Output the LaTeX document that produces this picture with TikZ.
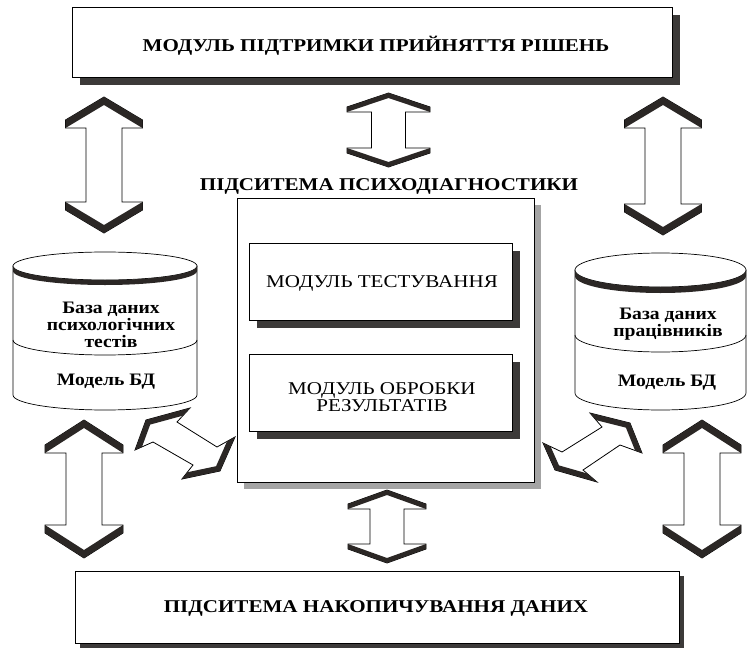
\documentclass[tikz,border=0pt]{standalone}
\usepackage{fontspec}
\setmainfont{Liberation Serif}
\newfontfamily\widefont{Liberation Serif}[FakeStretch=1.17]
\newfontfamily\cylfont{Liberation Serif}[FakeStretch=1.12]
\usetikzlibrary{shadows}
\definecolor{shdark}{HTML}{3C3A39}
\definecolor{shgray}{HTML}{A4A4A4}
\definecolor{bandc}{HTML}{2B2725}
% #1 cx, #2 cy, #3 length, #4 head width, #5 shaft width, #6 head length, #7 band
\newcommand{\dblarr}[7]{%
  \begin{scope}[shift={(#1,#2)}]
    \pgfmathsetmacro\aL{#3/2}
    \pgfmathsetmacro\aW{#4/2}
    \pgfmathsetmacro\aS{#5/2}
    \pgfmathsetmacro\aH{#3/2-#6}
    \pgfmathsetmacro\aK{#3/2-#6+#7}
    \pgfmathsetmacro\aT{#3/2-#7}
    \filldraw[arrbody] (0,-\aL) -- (\aW,-\aK) -- (\aW,-\aH) -- (\aS,-\aH) -- (\aS,\aH)
      -- (\aW,\aH) -- (\aW,\aK) -- (0,\aL) -- (-\aW,\aK) -- (-\aW,\aH) -- (-\aS,\aH)
      -- (-\aS,-\aH) -- (-\aW,-\aH) -- (-\aW,-\aK) -- cycle;
    \fill[arrband] (-\aW,-\aK) -- (0,-\aL) -- (\aW,-\aK) -- (\aW,-\aH) -- (0,-\aT) -- (-\aW,-\aH) -- cycle;
    \fill[arrband] (-\aW,\aK) -- (0,\aL) -- (\aW,\aK) -- (\aW,\aH) -- (0,\aT) -- (-\aW,\aH) -- cycle;
  \end{scope}}
\begin{document}
\begin{tikzpicture}[x=1pt,y=-1pt,
  box/.style={draw=black, fill=white, line width=0.8pt, inner sep=0pt},
  darkshadow/.style={drop shadow={shadow xshift=#1, shadow yshift=-#1, opacity=1, fill=shdark}},
  grayshadow/.style={drop shadow={shadow xshift=#1, shadow yshift=-#1, opacity=1, fill=shgray}},
  bigtext/.style={font=\widefont\fontsize{18}{18}\selectfont\bfseries},
  modtext/.style={font=\widefont\fontsize{18}{17}\selectfont, align=center},
  cyltext/.style={font=\cylfont\fontsize{17.5}{17}\selectfont\bfseries, align=center},
  arrbody/.style={draw=black, fill=white, line width=0.8pt, line join=miter},
  arrband/.style={fill=bandc},
  cyl/.style={draw=black, fill=white, line width=0.7pt}]
\useasboundingbox (0,0) rectangle (748,648);
\fill[white] (0,0) rectangle (748,648);

% top box
\node[box, darkshadow=8pt, minimum width=600pt, minimum height=70pt] (top) at (372,42) {};
\node[bigtext] (toptext) at (376,46) {МОДУЛЬ ПІДТРИМКИ ПРИЙНЯТТЯ РІШЕНЬ};

% bottom box
\node[box, darkshadow=5pt, minimum width=604pt, minimum height=72pt] (bot) at (377,607) {};
\node[bigtext] (bottext) at (376,608) {ПІДСИТЕМА НАКОПИЧУВАННЯ ДАНИХ};

% central subsystem
\node[bigtext] (psytitle) at (389,186) {ПІДСИТЕМА ПСИХОДІАГНОСТИКИ};
\node[box, grayshadow=7pt, minimum width=297pt, minimum height=284pt] (psy) at (385.5,340) {};
\node[box, darkshadow=8pt, minimum width=263pt, minimum height=77pt] (test) at (380.5,281.5) {};
\node[modtext] (testtext) at (382,283) {МОДУЛЬ ТЕСТУВАННЯ};
\node[box, darkshadow=8pt, minimum width=263pt, minimum height=77pt] (proc) at (380.5,392.5) {};
\node[modtext] (proctext) at (382,397) {МОДУЛЬ ОБРОБКИ\\РЕЗУЛЬТАТІВ};

% left cylinder
\filldraw[cyl] (13,266) -- (13,395) arc[start angle=180, end angle=360, x radius=92pt, y radius=15pt] -- (197,266) -- cycle;
\filldraw[cyl] (105,266) ellipse[x radius=92pt, y radius=14pt];
\fill[bandc] (13,266) arc[start angle=180, end angle=360, x radius=92pt, y radius=14pt] -- (197,271)
  arc[start angle=360, end angle=180, x radius=92pt, y radius=14pt] -- cycle;
\draw[line width=0.7pt] (13,340) arc[start angle=180, end angle=360, x radius=92pt, y radius=15pt];
\node[cyltext] (dbl) at (111,325) {База даних\\психологічних\\тестів};
\node[cyltext] (mdl) at (106,382) {Модель БД};

% right cylinder
\filldraw[cyl] (575,270) -- (575,393) arc[start angle=180, end angle=360, x radius=85.5pt, y radius=17pt] -- (746,270) -- cycle;
\filldraw[cyl] (660.5,270) ellipse[x radius=85.5pt, y radius=17pt];
\fill[bandc] (575,270) arc[start angle=180, end angle=360, x radius=85.5pt, y radius=17pt] -- (746,276)
  arc[start angle=360, end angle=180, x radius=85.5pt, y radius=17pt] -- cycle;
\draw[line width=0.7pt] (575,335) arc[start angle=180, end angle=360, x radius=85.5pt, y radius=17pt];
\node[cyltext] (dbr) at (668,324) {База даних\\працівників};
\node[cyltext] (mdr) at (667,383) {Модель БД};

% vertical block arrows
\dblarr{104}{165}{136}{77}{36}{31}{8}
\dblarr{663}{166}{138}{77}{36}{31}{8}
\dblarr{388.5}{130}{74}{83}{34}{19}{5}
\dblarr{387}{526.5}{73}{78}{34}{19}{5}
\dblarr{84}{489}{138}{78}{36}{33}{8}
\dblarr{702}{489}{138}{78}{36}{33}{8}

% diagonal block arrows
\filldraw[arrbody] (146,420) -- (190,408) -- (177,422) -- (217,447) -- (235,437) -- (220,471)
  -- (182,479) -- (193,465) -- (153,442) -- (135,450) -- cycle;
\begin{scope}
  \clip (146,420) -- (190,408) -- (177,422) -- (217,447) -- (235,437) -- (220,471)
    -- (182,479) -- (193,465) -- (153,442) -- (135,450) -- cycle;
  \draw[bandc, line width=11pt, line join=miter] (135,450) -- (146,420) -- (190,408);
  \draw[bandc, line width=11pt, line join=miter] (235,437) -- (220,471) -- (182,479);
\end{scope}
\filldraw[arrbody] (630,423) -- (642,453) -- (620,445) -- (583,470) -- (597,482) -- (555,470)
  -- (543,443) -- (562,452) -- (602,427) -- (590,413) -- cycle;
\begin{scope}
  \clip (630,423) -- (642,453) -- (620,445) -- (583,470) -- (597,482) -- (555,470)
    -- (543,443) -- (562,452) -- (602,427) -- (590,413) -- cycle;
  \draw[bandc, line width=11pt, line join=miter] (590,413) -- (630,423) -- (642,453);
  \draw[bandc, line width=11pt, line join=miter] (543,443) -- (555,470) -- (597,482);
\end{scope}
\end{tikzpicture}
\end{document}
